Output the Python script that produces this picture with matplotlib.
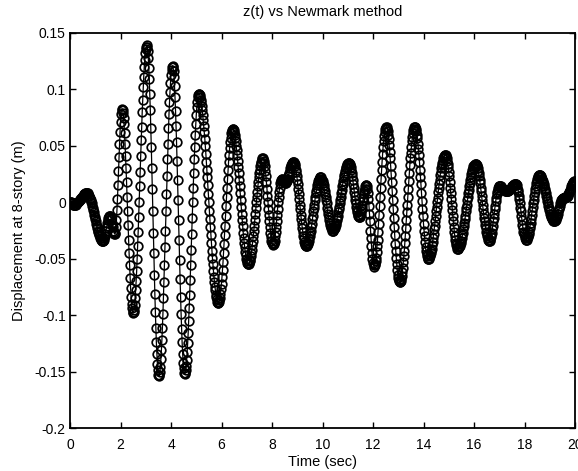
import numpy as np
import matplotlib
matplotlib.use("Agg")
import matplotlib.pyplot as plt

plt.rcParams['font.family'] = ['Liberation Sans', 'DejaVu Sans']

disp_mm = [
    0,
    0, 0, -1, -1, -1, -2, -2, -2,
    -2, -2, -2, -1, -1, -1, 0, 0, 1, 1, 2, 3, 3, 4, 5, 5, 6, 6, 7, 7, 7, 8, 8, 8, 8,
    8, 8, 7, 6, 6, 4, 3, 2, 0, -1, -3, -5, -7, -9, -11, -13, -15, -17, -19, -21, -23, -25, -26, -28, -29, -30, -32, -32, -33, -34, -34, -34,
    -34, -33, -32, -30, -28, -25, -23, -21, -18, -16, -14, -13, -12, -12,
    -12, -14, -15, -18, -20, -22, -25, -26, -28, -28,
    -27, -22, -16, -7, 3, 15, 28, 40, 52, 62, 71, 78, 82, 83,
    82, 79, 75, 69, 61, 52, 41, 30, 18, 5, -8, -20, -33, -45, -56, -67, -76, -84, -90, -94, -97, -98,
    -97, -95, -91, -85, -78, -70, -61, -50, -39, -26, -13, 0, 14, 27, 41, 55, 67, 80, 91, 102, 111, 120, 126, 132, 136, 138, 139,
    138, 134, 128, 119, 109, 96, 82, 66, 49, 30, 12, -8, -27, -45, -64, -81, -97, -111, -124, -134, -143, -149, -153, -154,
    -153, -150, -146, -139, -131, -122, -111, -99, -85, -71, -56, -40, -25, -8, 7, 23, 38, 52, 66, 78, 89, 98, 106, 113, 117, 120, 121,
    120, 116, 111, 103, 93, 81, 68, 53, 37, 20, 2, -16, -33, -51, -68, -84, -99, -112, -124, -134, -142, -147, -151, -152,
    -151, -149, -145, -140, -133, -125, -116, -105, -94, -82, -69, -56, -42, -28, -14, 0, 13, 26, 38, 49, 60, 69, 77, 84, 89, 93, 95, 96,
    96, 95, 93, 91, 89, 85, 82, 77, 73, 68, 62, 56, 50, 43, 36, 29, 22, 15, 7, 0, -8, -15, -22, -29, -36, -43, -49, -55, -61, -66, -71, -75, -78, -82, -84, -86, -88, -89, -89,
    -88, -87, -85, -81, -77, -72, -66, -60, -53, -45, -37, -29, -21, -12, -3, 5, 13, 21, 29, 36, 42, 48, 53, 57, 61, 63, 64, 65,
    65, 64, 62, 60, 57, 54, 50, 46, 42, 37, 31, 26, 20, 14, 8, 2, -4, -10, -16, -21, -27, -32, -36, -40, -44, -47, -50, -52, -54, -55, -55,
    -55, -54, -52, -51, -48, -45, -42, -38, -34, -30, -25, -21, -16, -10, -5, 0, 5, 9, 14, 18, 22, 26, 29, 32, 35, 36, 38, 39, 39,
    38, 37, 35, 32, 28, 23, 18, 12, 6, 0, -6, -11, -17, -22, -27, -31, -34, -36, -37, -38,
    -37, -36, -34, -30, -26, -22, -17, -11, -6, 0, 5, 9, 13, 17, 19, 20, 21,
    21, 20, 19, 19, 18, 17, 17,
    17, 18, 19, 20, 21, 23, 25, 26, 28, 30, 32, 33, 34, 35, 36, 36,
    36, 35, 34, 32, 29, 27, 23, 20, 16, 12, 7, 3, -2, -6, -11, -15, -19, -23, -26, -30, -32, -35, -37, -38, -39, -39,
    -39, -38, -37, -36, -34, -32, -30, -27, -25, -22, -19, -15, -12, -8, -5, -2, 2, 5, 8, 10, 13, 15, 17, 19, 20, 21, 22, 22,
    22, 21, 20, 19, 17, 15, 13, 10, 7, 5, 2, -1, -5, -8, -10, -13, -16, -18, -20, -22, -23, -24, -25, -25,
    -25, -24, -24, -23, -21, -20, -18, -16, -14, -12, -9, -6, -4, -1, 2, 5, 8, 11, 14, 16, 19, 22, 24, 26, 28, 30, 31, 33, 34, 34, 35, 35,
    35, 34, 33, 31, 29, 26, 23, 20, 16, 13, 9, 6, 2, -1, -4, -7, -9, -11, -12, -13, -13,
    -13, -12, -10, -8, -5, -2, 1, 4, 7, 10, 12, 14, 15, 15,
    14, 12, 8, 3, -3, -10, -17, -25, -32, -39, -45, -50, -54, -56, -57,
    -56, -55, -52, -49, -44, -39, -33, -26, -19, -11, -3, 5, 13, 21, 29, 36, 43, 49, 54, 59, 62, 65, 66, 67,
    67, 65, 63, 60, 56, 51, 45, 39, 32, 25, 18, 10, 2, -6, -14, -22, -29, -37, -43, -49, -55, -60, -64, -67, -69, -70, -71,
    -71, -70, -68, -65, -62, -58, -53, -48, -43, -36, -30, -23, -16, -9, -2, 5, 12, 19, 26, 33, 39, 44, 49, 54, 58, 61, 64, 65, 67, 67,
    67, 65, 63, 60, 57, 52, 47, 42, 36, 29, 22, 16, 8, 1, -6, -12, -19, -25, -30, -35, -40, -43, -46, -48, -50, -50,
    -50, -49, -48, -47, -45, -43, -41, -38, -35, -32, -28, -24, -21, -17, -12, -8, -4, 0, 4, 9, 13, 16, 20, 24, 27, 30, 33, 35, 37, 39, 40, 41, 42, 42,
    42, 41, 39, 37, 34, 31, 27, 23, 18, 13, 8, 3, -2, -7, -12, -17, -22, -26, -30, -33, -36, -38, -40, -41, -41,
    -41, -40, -40, -39, -37, -36, -34, -32, -29, -27, -24, -21, -18, -15, -12, -8, -5, -2, 2, 5, 8, 11, 14, 17, 20, 22, 25, 27, 29, 30, 32, 33, 33, 34, 34,
    34, 33, 32, 30, 28, 26, 23, 20, 17, 13, 10, 6, 2, -2, -6, -10, -14, -17, -20, -23, -26, -28, -30, -32, -33, -34, -34,
    -34, -33, -31, -29, -27, -24, -21, -17, -14, -10, -6, -3, 1, 4, 7, 9, 11, 13, 14, 14,
    14, 14, 14, 13, 13, 13, 12, 12, 11, 11, 11, 10, 10, 10, 10,
    10, 10, 10, 11, 11, 12, 12, 12, 13, 14, 14, 14, 15, 15, 16, 16, 16, 16,
    16, 15, 13, 11, 9, 6, 3, -1, -5, -8, -12, -16, -20, -23, -26, -28, -30, -32, -33, -33,
    -33, -32, -31, -30, -28, -26, -23, -21, -18, -15, -11, -8, -4, -1, 2, 6, 9, 12, 14, 17, 19, 21, 22, 23, 24, 24,
    24, 24, 23, 22, 21, 20, 19, 17, 16, 14, 12, 10, 8, 6, 4, 1, -1, -3, -5, -7, -8, -10, -12, -13, -14, -15, -16, -17, -17, -17,
    -17, -16, -16, -14, -13, -12, -10, -8, -6, -5, -3, -1, 0, 2, 3, 3, 4, 4,
    4, 4, 4, 5, 5, 5,
    5, 6, 6, 7, 8, 9, 10, 11, 13, 14, 15, 16, 17, 18, 18, 19, 19,
]

t_start, t_end = 0.0, 20.0
x_ticks = [0, 2, 4, 6, 8, 10, 12, 14, 16, 18, 20]
y_ticks = [-0.2, -0.15, -0.1, -0.05, 0, 0.05, 0.1, 0.15]
y_ticklabels = ['-0.2', '-0.15', '-0.1', '-0.05', '0', '0.05', '0.1', '0.15']

disp_m = np.array(disp_mm, dtype=float) / 1000.0
time_s = np.linspace(t_start, t_end, len(disp_m))

fig = plt.figure(figsize=(5.78, 4.71), dpi=100)
ax = fig.add_axes([70 / 578, 1 - 428 / 471, 505 / 578, 395 / 471])

ax.plot(time_s, disp_m, '-o', color='black', lw=0.9,
        mfc='none', mec='black', ms=6.2, mew=1.25)

ax.set_xlim(0, 20)
ax.set_ylim(-0.2, 0.15)
ax.set_xticks(x_ticks)
ax.set_xticklabels([str(v) for v in x_ticks])
ax.set_yticks(y_ticks)
ax.set_yticklabels(y_ticklabels)

ax.tick_params(direction='in', length=4, width=1.0, top=True, right=True,
               labelsize=10, colors='black')
ax.tick_params(axis='x', pad=7)
ax.tick_params(axis='y', pad=3)
for sp in ax.spines.values():
    sp.set_linewidth(1.3)
    sp.set_color('black')

ax.set_title('z(t) vs Newmark method', fontsize=10.5, pad=12)
ax.set_xlabel('Time (sec)', fontsize=10.5)
ax.set_ylabel('Displacement at 8-story (m)', fontsize=10.5)
ax.xaxis.set_label_coords(0.5, -0.068)
ax.yaxis.set_label_coords(-0.087, 0.5)

fig.savefig('out.png', dpi=100)
